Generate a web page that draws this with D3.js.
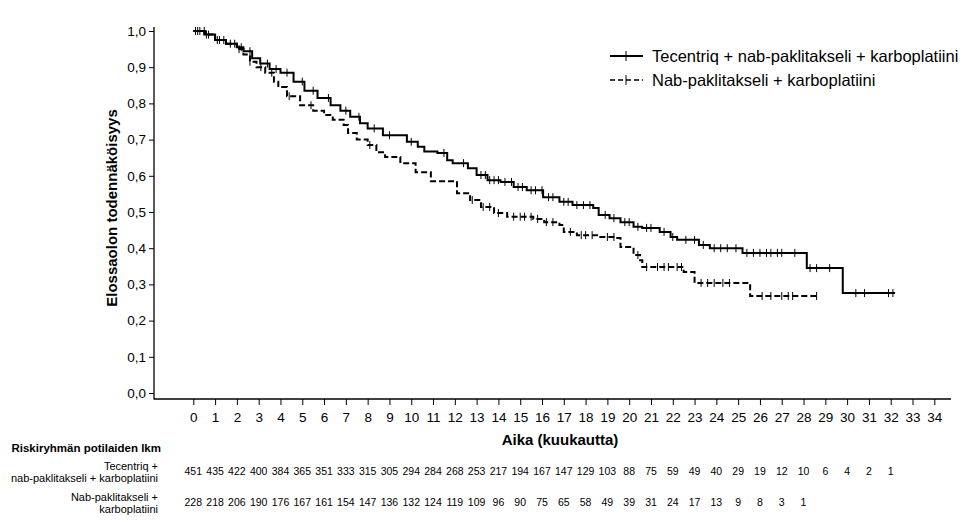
<!DOCTYPE html>
<html>
<head>
<meta charset="utf-8">
<script src="https://cdn.jsdelivr.net/npm/d3@7"></script>
<style>
  body { margin: 0; background: #fff; }
  text { font-family: "Liberation Sans", Arial, sans-serif; fill: #000; }
</style>
</head>
<body>
<div id="chart"></div>
<script>
// Kaplan-Meier steps (months, survival)
var tecTimes = [0, 0.55, 1.0, 1.5, 2.0, 2.3, 2.7, 3.07, 3.5, 4.0, 4.6, 5.1, 5.7, 6.3, 6.75, 7.2, 7.65, 8.0, 8.7, 9.8, 10.3, 10.6, 11.2, 11.65, 11.9, 12.6, 13.0, 13.5, 14.1, 14.7, 15.3, 16.05, 16.8, 17.4, 18.35, 18.6, 19.1, 19.6, 20.2, 20.6, 21.4, 21.9, 22.2, 23.2, 23.7, 25.2, 28.15, 29.8, 32.2];
var tecSurv  = [1.0, 0.99, 0.975, 0.965, 0.955, 0.944, 0.925, 0.91, 0.895, 0.885, 0.86, 0.835, 0.815, 0.795, 0.78, 0.763, 0.745, 0.731, 0.712, 0.694, 0.68, 0.667, 0.663, 0.643, 0.635, 0.621, 0.602, 0.588, 0.583, 0.569, 0.56, 0.541, 0.528, 0.519, 0.511, 0.492, 0.483, 0.472, 0.459, 0.456, 0.445, 0.431, 0.423, 0.409, 0.4, 0.387, 0.345, 0.276, 0.276];
var tecCensor = [0.1, 0.3, 0.5, 0.7, 1.2, 1.4, 1.9, 2.2, 2.6, 3.4, 3.8, 4.3, 5.0, 5.5, 6.2, 7.0, 7.6, 8.3, 9.0, 10.0, 11.5, 12.4, 13.2, 13.4, 13.6, 13.8, 14.0, 14.3, 14.6, 14.9, 15.1, 15.5, 15.7, 16.0, 16.3, 16.5, 17.0, 17.2, 17.6, 17.9, 18.2, 18.9, 19.3, 19.8, 20.0, 20.4, 20.8, 21.0, 21.6, 22.0, 22.6, 23.0, 23.4, 23.9, 24.2, 24.5, 24.9, 25.4, 25.7, 26.0, 26.3, 26.5, 26.8, 27.0, 27.6, 28.3, 28.6, 29.2, 30.4, 30.8, 31.9, 32.1];

var nabTimes = [0, 0.5, 1.0, 1.5, 2.0, 2.3, 2.6, 2.9, 3.3, 3.7, 3.9, 4.3, 4.9, 5.5, 6.0, 6.4, 6.9, 7.1, 7.5, 8.0, 8.4, 8.8, 9.5, 10.2, 10.9, 12.1, 12.7, 13.2, 13.8, 14.4, 15.6, 16.1, 16.8, 17.0, 17.6, 18.6, 19.4, 19.6, 20.2, 20.5, 20.6, 22.5, 23.0, 25.55, 28.6];
var nabSurv  = [1.0, 0.99, 0.975, 0.965, 0.95, 0.935, 0.915, 0.9, 0.885, 0.86, 0.845, 0.82, 0.795, 0.78, 0.768, 0.755, 0.74, 0.718, 0.7, 0.685, 0.665, 0.652, 0.635, 0.61, 0.585, 0.552, 0.533, 0.514, 0.497, 0.487, 0.481, 0.472, 0.464, 0.445, 0.436, 0.431, 0.428, 0.403, 0.381, 0.367, 0.348, 0.334, 0.304, 0.268, 0.268];
var nabCensor = [0.2, 0.6, 1.1, 1.7, 2.1, 2.6, 3.1, 3.6, 4.4, 5.4, 8.1, 12.8, 13.3, 13.6, 14.0, 14.7, 15.0, 15.2, 15.5, 15.8, 16.2, 16.5, 17.3, 17.8, 18.0, 18.3, 19.0, 19.3, 20.4, 20.8, 21.3, 21.6, 21.8, 22.2, 22.4, 23.3, 23.6, 23.9, 24.3, 24.6, 26.1, 26.5, 27.0, 27.3, 27.5, 28.6];

// patients at risk
var tecRisk = [451, 435, 422, 400, 384, 365, 351, 333, 315, 305, 294, 284, 268, 253, 217, 194, 167, 147, 129, 103, 88, 75, 59, 49, 40, 29, 19, 12, 10, 6, 4, 2, 1];
var nabRisk = [228, 218, 206, 190, 176, 167, 161, 154, 147, 136, 132, 124, 119, 109, 96, 90, 75, 65, 58, 49, 39, 31, 24, 17, 13, 9, 8, 3, 1];

var xTicks = d3.range(0, 35);
var yTicks = [0, 0.1, 0.2, 0.3, 0.4, 0.5, 0.6, 0.7, 0.8, 0.9, 1.0];
var seriesNames = ["Tecentriq + nab-paklitakseli + karboplatiini", "Nab-paklitakseli + karboplatiini"];

var svgWidth = 980, svgHeight = 522;

var svg = d3.select("#chart").append("svg")
  .attr("width", svgWidth)
  .attr("height", svgHeight);

var x = d3.scaleLinear().domain([0, 34]).range([193.3, 934.3]);
var y = d3.scaleLinear().domain([0, 1]).range([393, 31]);

var axisY = 399, axisX = 154;

// axis lines
svg.append("line").attr("x1", axisX).attr("x2", axisX).attr("y1", 27).attr("y2", axisY + 0.5)
  .attr("stroke", "#000").attr("stroke-width", 1.3);
svg.append("line").attr("x1", axisX).attr("x2", 951).attr("y1", axisY).attr("y2", axisY)
  .attr("stroke", "#000").attr("stroke-width", 1.3);

var fmt = function(d) { return d3.format(".1f")(d).replace(".", ","); };

var gy = svg.append("g")
  .attr("transform", `translate(${axisX},0)`)
  .call(d3.axisLeft(y).tickValues(yTicks).tickSize(5).tickPadding(3).tickFormat(fmt));
gy.select(".domain").remove();
gy.selectAll("text").style("font-size", "13.5px").style("font-family", "Liberation Sans, Arial, sans-serif");

var gx = svg.append("g")
  .attr("transform", `translate(0,${axisY})`)
  .call(d3.axisBottom(x).tickValues(xTicks).tickSize(6).tickPadding(7).tickFormat(d3.format("d")));
gx.select(".domain").remove();
gx.selectAll("text").style("font-size", "13.5px").style("font-family", "Liberation Sans, Arial, sans-serif");

// axis titles
svg.append("text")
  .attr("transform", "translate(117,208) rotate(-90)")
  .attr("text-anchor", "middle")
  .style("font-size", "15px").style("font-weight", "bold")
  .text("Elossaolon todennäköisyys");

svg.append("text")
  .attr("x", 560).attr("y", 445)
  .attr("text-anchor", "middle")
  .style("font-size", "15px").style("font-weight", "bold")
  .text("Aika (kuukautta)");

// curves
function stepData(times, surv) {
  return times.map(function(t, i) { return { t: t, s: surv[i] }; });
}
function survAt(times, surv, t) {
  var i = d3.bisectRight(times, t) - 1;
  return surv[Math.max(0, i)];
}

var line = d3.line()
  .x(d => x(d.t))
  .y(d => y(d.s))
  .curve(d3.curveStepAfter);

var series = [
  { times: tecTimes, surv: tecSurv, censor: tecCensor, dash: null },
  { times: nabTimes, surv: nabSurv, censor: nabCensor, dash: "6,3" }
];

series.forEach(function(s) {
  svg.append("path")
    .datum(stepData(s.times, s.surv))
    .attr("d", line)
    .attr("fill", "none")
    .attr("stroke", "#000")
    .attr("stroke-width", 2)
    .attr("stroke-dasharray", s.dash);

  svg.append("g").selectAll("line")
    .data(s.censor)
    .enter()
    .append("line")
    .attr("x1", d => x(d)).attr("x2", d => x(d))
    .attr("y1", d => y(survAt(s.times, s.surv, d)) - 4)
    .attr("y2", d => y(survAt(s.times, s.surv, d)) + 4)
    .attr("stroke", "#000")
    .attr("stroke-width", 1);
});

// legend
var legend = svg.append("g");
seriesNames.forEach(function(name, i) {
  var ly = 56 + i * 24;
  legend.append("line")
    .attr("x1", 610).attr("x2", 643).attr("y1", ly).attr("y2", ly)
    .attr("stroke", "#000").attr("stroke-width", i === 0 ? 2 : 1.6)
    .attr("stroke-dasharray", i === 0 ? null : "5,3");
  legend.append("line")
    .attr("x1", 626).attr("x2", 626).attr("y1", ly - 5).attr("y2", ly + 5)
    .attr("stroke", "#000").attr("stroke-width", 1);
  legend.append("text")
    .attr("x", 652).attr("y", ly + 6)
    .style("font-size", "16.5px")
    .text(name);
});

// risk table
svg.append("text")
  .attr("x", 161).attr("y", 452)
  .attr("text-anchor", "end")
  .style("font-size", "11.5px").style("font-weight", "bold")
  .text("Riskiryhmän potilaiden lkm");

var rowLabels = [["Tecentriq +", "nab-paklitakseli + karboplatiini"], ["Nab-paklitakseli +", "karboplatiini"]];
var rowY = [475, 506];
rowLabels.forEach(function(lines, i) {
  lines.forEach(function(l, j) {
    svg.append("text")
      .attr("x", 158).attr("y", rowY[i] - 5 + j * 11.5)
      .attr("text-anchor", "end")
      .style("font-size", "11px")
      .text(l);
  });
});

[tecRisk, nabRisk].forEach(function(vals, i) {
  svg.append("g").selectAll("text")
    .data(vals)
    .enter()
    .append("text")
    .attr("x", (d, k) => x(k))
    .attr("y", rowY[i])
    .attr("text-anchor", "middle")
    .style("font-size", "10.5px")
    .text(d => d);
});
</script>
</body>
</html>
